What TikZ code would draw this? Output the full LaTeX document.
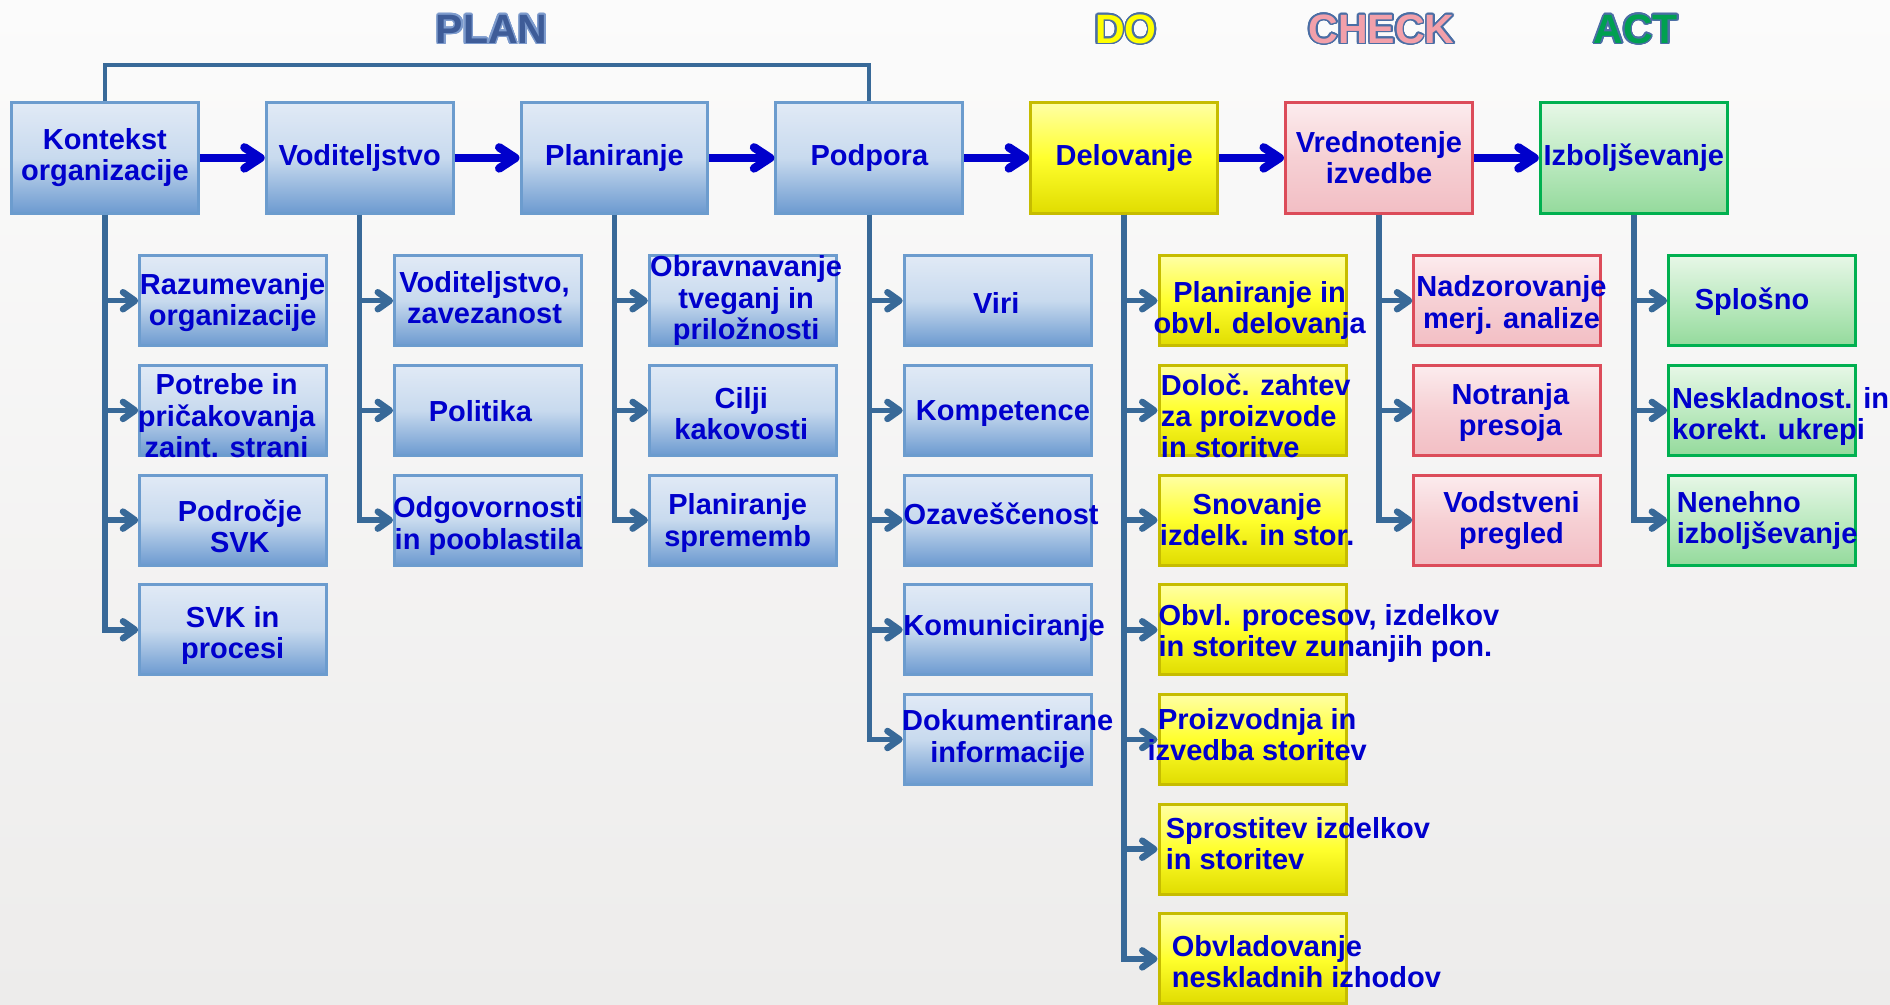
\documentclass[tikz,border=0pt]{standalone}
\usepackage{fontspec}
\setmainfont{Liberation Sans}
\usepackage[copies]{contour}
\usetikzlibrary{arrows.meta}
\definecolor{txtblue}{RGB}{0,0,204}
\definecolor{trunk}{RGB}{56,105,152}
\definecolor{flowblue}{RGB}{0,0,204}
\definecolor{bedge}{RGB}{108,156,206}
\definecolor{btop}{RGB}{225,234,246}
\definecolor{bmid}{RGB}{200,218,238}
\definecolor{bbot}{RGB}{108,154,208}
\definecolor{yedge}{RGB}{198,188,0}
\definecolor{ytop}{RGB}{255,255,165}
\definecolor{ymid}{RGB}{255,255,45}
\definecolor{ybot}{RGB}{224,220,0}
\definecolor{pedge}{RGB}{220,76,90}
\definecolor{ptop}{RGB}{252,236,238}
\definecolor{pmid}{RGB}{246,208,212}
\definecolor{pbot}{RGB}{242,190,196}
\definecolor{gedge}{RGB}{0,176,80}
\definecolor{gtop}{RGB}{231,247,231}
\definecolor{gmid}{RGB}{190,234,194}
\definecolor{gbot}{RGB}{148,218,156}
\definecolor{planfill}{RGB}{62,92,152}
\definecolor{planedge}{RGB}{125,155,205}
\definecolor{hdredge}{RGB}{74,110,165}
\definecolor{dofill}{RGB}{255,255,0}
\definecolor{checkfill}{RGB}{242,160,170}
\definecolor{actfill}{RGB}{0,160,80}
\definecolor{bgtop}{RGB}{251,251,251}
\definecolor{bgbot}{RGB}{237,236,235}
\newcommand\bxfont{\fontsize{29}{31.3}\selectfont\bfseries}
\newcommand\hdrfont{\fontsize{41}{41}\selectfont\bfseries}
\contourlength{1.6pt}
\contournumber{24}
\tikzset{
  basebox/.style={line width=3pt, minimum width=187pt, inner sep=0pt, text=txtblue, font=\bxfont, align=center},
  topbox/.style={basebox, minimum height=111pt},
  subbox/.style={basebox, minimum height=90pt},
  bluebox/.style={draw=bedge, top color=btop, bottom color=bbot, middle color=bmid},
  yelbox/.style={draw=yedge, top color=ytop, bottom color=ybot, middle color=ymid},
  pinkbox/.style={draw=pedge, top color=ptop, bottom color=pbot, middle color=pmid},
  greenbox/.style={draw=gedge, top color=gtop, bottom color=gbot, middle color=gmid},
  txt/.style={text=txtblue, font=\bxfont, align=center, inner sep=0pt},
  txtl/.style={txt, align=left, anchor=west},
  branch/.style={draw=trunk, line width=5.5pt, -{Straight Barb[length=12pt,width=17pt,line width=6.5pt,round]}},
  flow/.style={draw=flowblue, line width=8pt, -{Straight Barb[length=16pt,width=21pt,line width=8.5pt,round]}},
  fb/.style={draw=trunk, line width=4pt},
  hdr/.style={anchor=base, font=\hdrfont, inner sep=0pt}
}
\begin{document}
\begin{tikzpicture}[x=1.2054pt,y=-1.2054pt]
\useasboundingbox (0,0) rectangle (1568,833);
\shade[top color=bgtop, bottom color=bgbot] (0,0) rectangle (1568,833);

% headers
\node[hdr, text=planfill] (hplan) at (408,36) {\contour{planedge}{PLAN}};
\node[hdr, text=dofill] (hdo) at (934,36) {\contour{hdredge}{DO}};
\node[hdr, text=checkfill] (hcheck) at (1146,36) {\contour{hdredge}{CHECK}};
\node[hdr, text=actfill] (hact) at (1357,36) {\contour{hdredge}{ACT}};

% top row
\node[topbox,bluebox] (k) at (87,131) {Kontekst\\organizacije};
\node[topbox,bluebox] (v) at (298.4,131) {Voditeljstvo};
\node[topbox,bluebox] (pl) at (509.8,131) {Planiranje};
\node[topbox,bluebox] (po) at (721.2,131) {\raisebox{-4pt}{Podpora}};
\node[topbox,yelbox] (de) at (932.6,131) {Delovanje};
\node[topbox,pinkbox] (vr) at (1144,131) {Vrednotenje\\izvedbe};
\node[topbox,greenbox] (iz) at (1355.4,131) {\raisebox{4pt}{Izboljševanje}};

% feedback line
\draw[fb] (k.north) -- ++(0,-30) -| (po.north);

% flow arrows
\draw[flow] (k.east) -- (v.west);
\draw[flow] (v.east) -- (pl.west);
\draw[flow] (pl.east) -- (po.west);
\draw[flow] (po.east) -- (de.west);
\draw[flow] (de.east) -- (vr.west);
\draw[flow] (vr.east) -- (iz.west);

% column 1
\node[subbox,bluebox] (k1) at (193.5,249.5) {};
\node[subbox,bluebox] (k2) at (193.5,340.5) {};
\node[subbox,bluebox] (k3) at (193.5,431.5) {};
\node[subbox,bluebox] (k4) at (193.5,522.5) {};
% column 2
\node[subbox,bluebox] (v1) at (404.9,249.5) {};
\node[subbox,bluebox] (v2) at (404.9,340.5) {};
\node[subbox,bluebox] (v3) at (404.9,431.5) {};
% column 3
\node[subbox,bluebox] (p1) at (616.3,249.5) {};
\node[subbox,bluebox] (p2) at (616.3,340.5) {};
\node[subbox,bluebox] (p3) at (616.3,431.5) {};
% column 4
\node[subbox,bluebox] (o1) at (827.7,249.5) {};
\node[subbox,bluebox] (o2) at (827.7,340.5) {};
\node[subbox,bluebox] (o3) at (827.7,431.5) {};
\node[subbox,bluebox] (o4) at (827.7,522.5) {};
\node[subbox,bluebox] (o5) at (827.7,613.5) {};
% column 5
\node[subbox,yelbox] (d1) at (1039.1,249.5) {};
\node[subbox,yelbox] (d2) at (1039.1,340.5) {};
\node[subbox,yelbox] (d3) at (1039.1,431.5) {};
\node[subbox,yelbox] (d4) at (1039.1,522.5) {};
\node[subbox,yelbox] (d5) at (1039.1,613.5) {};
\node[subbox,yelbox] (d6) at (1039.1,704.5) {};
\node[subbox,yelbox] (d7) at (1039.1,795.5) {};
% column 6
\node[subbox,pinkbox] (c1) at (1250.5,249.5) {};
\node[subbox,pinkbox] (c2) at (1250.5,340.5) {};
\node[subbox,pinkbox] (c3) at (1250.5,431.5) {};
% column 7
\node[subbox,greenbox] (a1) at (1461.9,249.5) {};
\node[subbox,greenbox] (a2) at (1461.9,340.5) {};
\node[subbox,greenbox] (a3) at (1461.9,431.5) {};

% branches
\foreach \s in {k1,k2,k3,k4} \draw[branch] (k.south) |- (\s.west);
\foreach \s in {v1,v2,v3} \draw[branch] (v.south) |- (\s.west);
\foreach \s in {p1,p2,p3} \draw[branch] (pl.south) |- (\s.west);
\foreach \s in {o1,o2,o3,o4,o5} \draw[branch] (po.south) |- (\s.west);
\foreach \s in {d1,d2,d3,d4,d5,d6,d7} \draw[branch] (de.south) |- (\s.west);
\foreach \s in {c1,c2,c3} \draw[branch] (vr.south) |- (\s.west);
\foreach \s in {a1,a2,a3} \draw[branch] (iz.south) |- (\s.west);

% texts column 1
\node[txt] (tk1) at (193,251) {Razumevanje\\organizacije};
\node[txt] (tk2) at (188,345) {Potrebe in\\pričakovanja\\zaint. strani};
\node[txt] (tk3) at (199,436.5) {Področje\\SVK};
\node[txt] (tk4) at (193,527) {SVK in\\procesi};
% column 2
\node[txt] (tv1) at (402,247) {Voditeljstvo,\\zavezanost};
\node[txt] (tv2) at (398.5,341) {Politika};
\node[txt] (tv3) at (405,436.5) {Odgovornosti\\in pooblastila};
% column 3
\node[txt] (tp1) at (619,249.5) {Obravnavanje\\tveganj in\\priložnosti};
\node[txt] (tp2) at (615,343) {Cilji\\kakovosti};
\node[txt] (tp3) at (612,434) {Planiranje\\sprememb};
% column 4
\node[txt] (to1) at (826.5,251) {Viri};
\node[txt] (to2) at (832,343) {Kompetence};
\node[txt] (to3) at (830.5,426) {Ozaveščenost};
\node[txt] (to4) at (833,521) {Komuniciranje};
\node[txt] (to5) at (836,613) {Dokumentirane\\informacije};
% column 5
\node[txt] (td1) at (1045,257.5) {Planiranje in\\obvl. delovanja};
\node[txtl] (td2) at (963,345) {Določ. zahtev\\za proizvode\\in storitve};
\node[txt] (td3) at (1043,431) {Snovanje\\izdelk. in stor.};
\node[txtl] (td4) at (961,525.5) {Obvl. procesov, izdelkov\\in storitev zunanjih pon.};
\node[txt] (td5) at (1043,609.5) {Proizvodnja in\\izvedba storitev};
\node[txtl] (td6) at (967,700) {Sprostitev izdelkov\\in storitev};
\node[txtl] (td7) at (972,797.5) {Obvladovanje\\neskladnih izhodov};
% column 6
\node[txt] (tc1) at (1254,253) {Nadzorovanje\\merj. analize};
\node[txt] (tc2) at (1253,342) {Notranja\\presoja};
\node[txt] (tc3) at (1254,432) {Vodstveni\\pregled};
% column 7
\node[txt] (ta1) at (1453.5,250) {Splošno};
\node[txtl] (ta2) at (1387,345.5) {Neskladnost. in\\korekt. ukrepi};
\node[txtl] (ta3) at (1391,432) {Nenehno\\izboljševanje};
\end{tikzpicture}
\end{document}
